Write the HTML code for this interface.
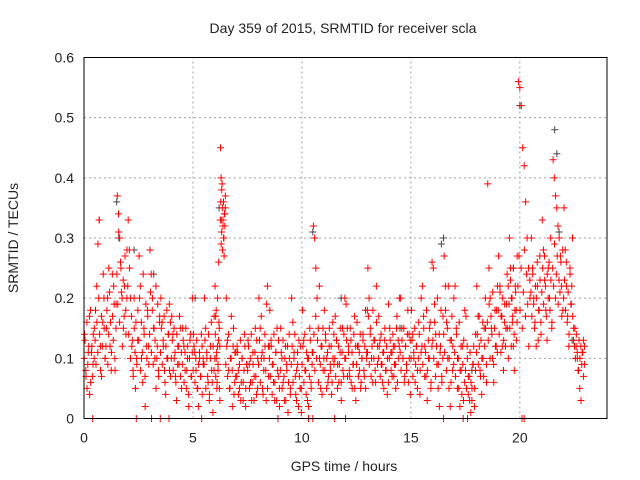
<!DOCTYPE html>
<html><head><meta charset="utf-8"><style>
body{margin:0;background:#fff}
svg{display:block;font-family:"Liberation Sans",sans-serif}
</style></head><body>
<svg id="c" width="640" height="480" viewBox="0 0 640 480">
<rect width="640" height="480" fill="#fff"/>
<g id="grid"></g><g id="marks"></g><g id="axes"></g>
<text x="343" y="33" text-anchor="middle" font-size="14" fill="#222">Day 359 of 2015, SRMTID for receiver scla</text>
<text x="344" y="471" text-anchor="middle" font-size="14" fill="#222">GPS time / hours</text>
<text transform="translate(18,238) rotate(-90)" text-anchor="middle" font-size="14" fill="#222">SRMTID / TECUs</text>
</svg>
<script>
const xTicks=[0,5,10,15,20];
const yTicks=[0,0.1,0.2,0.3,0.4,0.5,0.6];
const yTickLabels=["0","0.1","0.2","0.3","0.4","0.5","0.6"];
const segStart=[0,0.5,1,1.5,2,2.5,3,3.5,4,4.5,5,5.5,6,6.25,6.5,7,7.5,8,8.5,9,9.5,10,10.5,11,11.5,12,12.5,13,13.5,14,14.5,15,15.5,16,16.5,17,17.5,18,18.5,19,19.5,19.9,20.5,21,21.5,22,22.5];
const redV=[
[.14,.08,.05,.11,.17,.06,.12,.09,.15],[.18,.22,.29,.33,.12,.07,.16,.2,.1],[.15,.2,.25,.12,.08,.17,.22,.1,.19],
[.37,.34,.3,.25,.2,.15,.22,.18,.28],[.33,.28,.2,.12,.08,.15,.05,.1,.18],[.27,.22,.1,.06,.15,.02,.12,.18,.09],
[.28,.24,.2,.15,.1,.05,.12,.08,.17],[.2,.16,.12,.08,.04,.1,.14,.19,.07],[.17,.14,.1,.07,.03,.12,.09,.15,.05],
[.15,.12,.08,.05,.1,.02,.13,.07,.2],[.14,.11,.08,.05,.02,.1,.07,.12,.09],[.2,.15,.1,.06,.03,.12,.08,.01,.17],
[.22,.17,.1,.05,.12,.08,.26,.15,.03],[.45,.4,.38,.35,.32,.3,.27,.34,.37],[.2,.13,.08,.05,.1,.02,.15,.06,.11],
[.12,.08,.05,.03,.1,.06,.14,.02,.09],[.13,.09,.06,.03,.11,.07,.15,.04,.1],[.2,.15,.1,.05,.08,.12,.03,.22,.07],
[.18,.13,.09,.06,.03,.11,.15,.07,.02],[.15,.1,.06,.03,.12,.08,.01,.14,.05],[.2,.16,.11,.07,.03,.09,.13,.05,.01],
[.18,.13,.08,.04,.1,.02,.15,.06,.11],[.32,.3,.25,.2,.15,.1,.05,.12,.08],[.18,.14,.1,.06,.12,.08,.04,.16,.09],
[.17,.13,.09,.06,.11,.03,.15,.07,.2],[.19,.15,.11,.07,.13,.05,.09,.17,.03],[.16,.12,.08,.05,.1,.14,.07,.18,.11],
[.25,.2,.15,.1,.06,.13,.08,.22,.12],[.17,.13,.09,.06,.11,.15,.08,.04,.19],[.15,.11,.07,.12,.09,.05,.17,.13,.2],
[.2,.15,.1,.06,.12,.08,.18,.14,.04],[.18,.14,.1,.06,.12,.08,.16,.04,.2],[.22,.17,.12,.07,.03,.1,.15,.05,.26],
[.25,.19,.14,.09,.05,.02,.12,.07,.17],[.27,.22,.16,.1,.05,.02,.13,.08,.2],[.22,.15,.1,.05,.02,.08,.12,.03,.18],
[.17,.12,.07,.03,.01,.05,.09,.02,.14],[.22,.17,.12,.07,.04,.1,.15,.2,.06],[.39,.25,.2,.15,.1,.06,.18,.12,.22],
[.27,.22,.17,.12,.08,.19,.15,.24,.1],[.3,.25,.2,.16,.12,.08,.22,.18,.27],[.56,.55,.52,.45,.42,.36,.3,.25,.2],
[.3,.25,.2,.16,.12,.22,.18,.27,.14],[.33,.28,.23,.18,.13,.25,.2,.3,.16],[.43,.4,.37,.35,.32,.3,.27,.22,.18],
[.35,.28,.22,.17,.12,.24,.19,.3,.15],[.15,.12,.1,.08,.05,.03,.11,.13,.09]];
const redV2=[
[.1,.13,.07,.16,.09,.12,.04,.18,.11,.07,.14,.1],[.13,.09,.16,.11,.2,.14,.08,.17,.12,.24,.15,.1],[.12,.18,.09,.14,.21,.16,.11,.24,.13,.19,.08,.15],
[.24,.19,.31,.16,.26,.21,.12,.23,.17,.27,.14,.2],[.22,.14,.25,.1,.17,.13,.07,.2,.11,.16,.09,.13],[.13,.2,.08,.16,.11,.24,.14,.07,.19,.1,.17,.12],
[.14,.21,.11,.18,.09,.15,.13,.22,.1,.19,.07,.16],[.11,.15,.09,.13,.17,.06,.12,.18,.1,.14,.08,.16],[.1,.13,.08,.15,.11,.06,.14,.09,.12,.17,.07,.11],
[.09,.13,.06,.11,.15,.08,.12,.04,.1,.14,.07,.11],[.08,.12,.06,.1,.13,.05,.09,.11,.07,.14,.04,.1],[.09,.13,.05,.11,.07,.14,.04,.1,.16,.06,.12,.08],
[.1,.14,.07,.18,.11,.06,.2,.09,.13,.16,.05,.12],[.33,.36,.29,.31,.39,.28,.33,.36,.3,.34,.32,.35],[.09,.12,.07,.14,.05,.1,.17,.08,.12,.04,.11,.07],
[.07,.11,.04,.09,.13,.06,.1,.03,.08,.12,.05,.09],[.08,.12,.05,.1,.14,.06,.09,.03,.11,.07,.13,.05],[.09,.13,.06,.17,.11,.04,.1,.14,.08,.19,.05,.12],
[.1,.07,.12,.04,.09,.14,.06,.11,.03,.08,.13,.05],[.08,.11,.05,.13,.07,.1,.03,.09,.12,.06,.1,.04],[.09,.12,.06,.1,.14,.04,.08,.11,.02,.07,.12,.05],
[.09,.12,.06,.14,.08,.11,.03,.1,.07,.13,.05,.09],[.11,.14,.08,.17,.1,.13,.06,.22,.09,.12,.04,.15],[.1,.08,.13,.05,.11,.07,.15,.09,.12,.06,.1,.14],
[.1,.07,.13,.05,.12,.09,.15,.06,.11,.08,.14,.1],[.1,.13,.07,.12,.08,.15,.06,.11,.09,.14,.05,.12],[.09,.12,.07,.11,.14,.06,.1,.13,.08,.12,.05,.1],
[.11,.17,.09,.14,.07,.12,.18,.1,.13,.06,.16,.09],[.1,.12,.07,.14,.09,.11,.05,.13,.08,.12,.1,.06],[.1,.13,.08,.11,.14,.07,.12,.09,.15,.06,.1,.12],
[.11,.08,.13,.1,.15,.07,.12,.09,.14,.06,.1,.13],[.1,.13,.07,.11,.15,.09,.12,.05,.1,.14,.08,.11],[.12,.09,.15,.07,.11,.18,.08,.13,.1,.16,.06,.12],
[.13,.1,.16,.07,.12,.2,.09,.14,.11,.18,.06,.1],[.14,.11,.18,.08,.15,.22,.1,.13,.06,.17,.12,.09],[.11,.07,.14,.05,.1,.16,.08,.12,.04,.09,.13,.06],
[.08,.05,.1,.04,.07,.11,.06,.03,.09,.12,.05,.08],[.11,.14,.09,.17,.08,.13,.1,.16,.07,.12,.15,.09],[.16,.13,.19,.1,.17,.14,.21,.09,.15,.12,.18,.11],
[.18,.14,.21,.11,.17,.2,.13,.16,.12,.19,.15,.22],[.19,.15,.23,.12,.2,.17,.25,.14,.18,.21,.13,.16],[.22,.27,.18,.25,.15,.21,.28,.17,.24,.19,.12,.23],
[.21,.17,.24,.19,.15,.22,.2,.26,.13,.18,.23,.16],[.21,.25,.19,.27,.22,.17,.24,.2,.26,.18,.23,.15],[.25,.22,.29,.2,.24,.27,.19,.23,.21,.26,.17,.28],
[.2,.23,.18,.26,.16,.21,.14,.25,.19,.22,.17,.13],[.12,.1,.14,.11,.08,.13,.1,.12,.09,.11,.07,.12]];
const zeroT=[0.4,2.4,3.1,3.5,3.9,5.4,8.9,10.3,10.5,11.5,12,16.5,17.4,17.6,20.1,20.2];
const greyT=[0.7,1.5,1.6,2.3,3.2,5.1,6.2,6.3,8.5,10.5,11.8,13,14.5,16.4,16.5,17.8,19.7,20,21.6,21.7,21.8,22.4];
const greyV=[0.33,0.36,0.3,0.28,0.24,0.2,0.35,0.33,0.12,0.31,0.2,0.18,0.15,0.29,0.3,0.08,0.25,0.52,0.48,0.44,0.31,0.13];
const NS='http://www.w3.org/2000/svg';
const X0=84,X1=607,Y0=418.5,Y1=57.5;
const xs=t=>X0+(t/24)*(X1-X0);
const ys=v=>Y0-(v/0.6)*(Y0-Y1);
function mk(tag,attrs,parent){const e=document.createElementNS(NS,tag);for(const k in attrs)e.setAttribute(k,attrs[k]);parent.appendChild(e);return e;}
const grid=document.getElementById('grid'),axes=document.getElementById('axes'),marks=document.getElementById('marks');
yTicks.forEach((v,i)=>{
  if(i>0&&i<yTicks.length-1){const l=mk('line',{x1:X0,x2:X1,y1:ys(v),y2:ys(v),stroke:'#a0a0a0','stroke-dasharray':'2,3'},grid);
  
  }
  const t=mk('text',{x:X0-10,y:ys(v)+5,'text-anchor':'end','font-size':'14',fill:'#222'},axes);t.textContent=yTickLabels[i];
  
  
});
xTicks.forEach(v=>{
  if(v>0){const l=mk('line',{x1:xs(v),x2:xs(v),y1:Y0,y2:Y1,stroke:'#a0a0a0','stroke-dasharray':'2,3'},grid);
  
  }
  const t=mk('text',{x:xs(v),y:Y0+24,'text-anchor':'middle','font-size':'14',fill:'#222'},axes);t.textContent=String(v);
  
  
});
const fr=mk('rect',{x:X0,y:Y1,width:X1-X0,height:Y0-Y1,fill:'none',stroke:'#000','stroke-width':1},axes);


function plus(t,v,col,name){
  const x=xs(t),y=ys(v);
  const p=mk('path',{d:`M${x-3.5},${y}h7M${x},${y-3.5}v7`,stroke:col,'stroke-width':1,fill:'none'},marks);
  
  
}
greyT.forEach((t,i)=>plus(t,greyV[i],'#444','grey-point'));
function drawSeries(series,shift){
  series.forEach((arr,s)=>{
    const span=(s+1<segStart.length?segStart[s+1]:segStart[s]+0.5)-segStart[s];
    arr.forEach((v,i)=>plus(segStart[s]+span*((i+shift)/arr.length),v,'#ff0000','red-point'));
  });
}
drawSeries(redV,0.5);
drawSeries(redV2,0.2);
zeroT.forEach(t=>plus(t,0,'#ff0000','zero-point'));
</script>
</body></html>
